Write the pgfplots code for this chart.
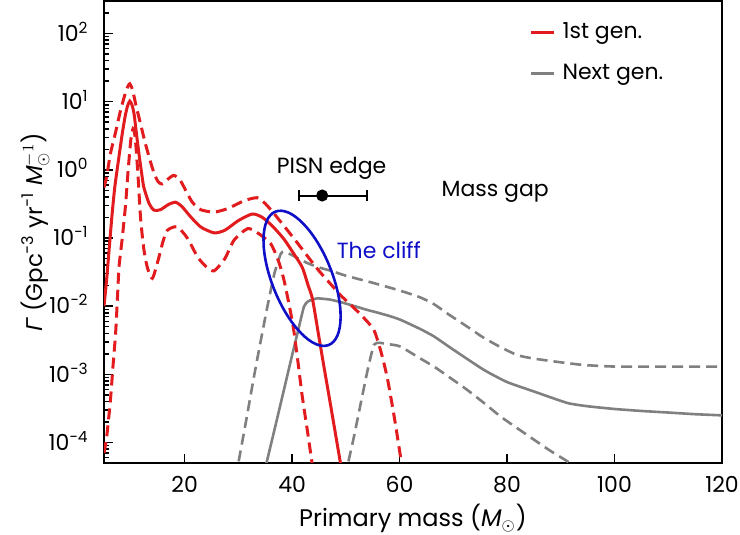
\documentclass[border=0pt]{standalone}
\usepackage{pgfplots}
\pgfplotsset{compat=1.18}
\usepackage{fontspec}
\setmainfont{Poppins}
\newfontfamily\gfont{Liberation Sans}
\definecolor{genred}{RGB}{226,27,30}
\definecolor{gengray}{RGB}{128,128,128}
\definecolor{cliffblue}{RGB}{15,15,200}

\pgfplotstableread{
x y
5.0 0.010
5.5 0.025
6.0 0.075
6.5 0.22
7.0 0.55
7.7 1.4
8.4 3.4
9.0 6.5
9.4 8.7
9.8 10.2
10.2 9.0
10.6 6.6
11.0 3.6
11.5 1.73
12.0 0.9
12.4 0.56
13.4 0.32
14.3 0.256
15.5 0.26
17.0 0.31
18.3 0.335
19.5 0.29
21.0 0.21
23.0 0.145
25.5 0.119
27.5 0.13
30.0 0.18
32.6 0.225
34.5 0.2
36.5 0.145
38.5 0.096
40.3 0.059
41.9 0.037
43.0 0.02
43.8 0.0127
45.0 0.0035
46.0 0.0012
47.0 4.2e-4
48.0 1.45e-4
49.0 5e-5
49.5 3e-5
}\firstmed

\pgfplotstableread{
x y
5.0 0.55
5.5 0.8
6.2 1.73
7.16 3.57
8.0 7.0
8.8 12
9.4 16.5
9.8 18.3
10.3 15
11.0 8.5
11.8 4.74
12.6 2.6
13.4 1.54
14.2 0.95
15.0 0.68
15.8 0.62
16.8 0.72
18.0 0.83
19.2 0.7
20.5 0.45
21.5 0.33
23.0 0.26
25.5 0.24
28.0 0.27
31.0 0.35
33.5 0.39
35.0 0.32
36.6 0.23
38.5 0.15
40.5 0.095
42.8 0.055
45.0 0.033
47.2 0.021
49.0 0.0145
50.9 0.0105
53.0 0.0072
55.2 0.0045
56.5 0.0022
57.7 0.0009
59.0 2.4e-4
60.2 6e-5
60.6 3.5e-5
}\firsthi

\pgfplotstableread{
x y
5.0 7e-5
5.5 1.2e-4
6.2 4.2e-4
6.7 1.4e-3
7.16 0.004
7.5 0.013
7.8 0.038
8.4 0.1
9.0 0.3
9.5 1.0
10.0 2.8
10.4 4.0
10.8 3.0
11.3 0.9
11.8 0.2
12.4 0.07
13.1 0.036
14.0 0.0256
15.0 0.045
16.0 0.09
16.8 0.13
18.6 0.146
20.5 0.1
22.4 0.053
24.0 0.038
25.5 0.033
27.5 0.05
29.2 0.093
31.7 0.137
33.5 0.12
36.0 0.083
37.5 0.045
38.5 0.024
39.5 0.01
40.3 0.0045
41.1 0.0015
41.9 4.7e-4
42.9 1.4e-4
43.8 4.5e-5
44.2 3e-5
}\firstlo

\pgfplotstableread{
x y
35.1 4.5e-5
36.0 8.9e-5
37.0 1.9e-4
38.5 6e-4
40.0 1.9e-3
41.0 4e-3
42.2 0.0098
43.0 0.0118
44.7 0.013
47.0 0.0125
49.0 0.0115
50.9 0.0104
54.0 0.0088
56.0 0.008
58.3 0.0071
60.2 0.0063
63.9 0.0046
66.4 0.0036
70.0 0.0023
75.7 0.00116
80.0 7.7e-4
85.0 5.6e-4
91.2 3.8e-4
95.0 3.4e-4
100.0 3.1e-4
105.0 2.9e-4
110.0 2.75e-4
115.0 2.6e-4
120.0 2.5e-4
}\nextmed

\pgfplotstableread{
x y
29.6 3e-5
29.9 4.5e-5
31.5 2.2e-4
32.9 9.2e-4
34.2 3.2e-3
35.4 0.0098
36.7 0.03
37.9 0.059
38.6 0.063
40.0 0.056
42.8 0.043
45.0 0.037
47.2 0.033
50.0 0.028
55.2 0.0218
60.2 0.0168
63.9 0.0134
66.4 0.0107
69.0 0.0077
72.6 0.005
75.5 0.0035
78.8 0.0025
82.0 0.0019
85.0 0.0017
90.0 0.0015
94.3 0.00137
100.0 0.0013
110.0 0.0013
120.0 0.0013
}\nexthi

\pgfplotstableread{
x y
50.0 3e-5
50.3 4.5e-5
51.5 1.2e-4
52.7 3.5e-4
54.0 1.1e-3
55.2 0.0027
56.2 0.0029
57.5 0.0028
58.9 0.0027
60.2 0.00255
63.9 0.0017
66.4 0.0013
69.5 0.00088
72.6 5.9e-4
75.7 3.8e-4
78.8 2.4e-4
82.0 1.6e-4
85.0 1.1e-4
88.0 7.6e-5
91.2 5.3e-5
93.0 4e-5
}\nextlo

\begin{document}
\begin{tikzpicture}
\begin{axis}[
  scale only axis, width=309pt, height=231pt,
  ymode=log, xmin=5, xmax=120, ymin=5e-5, ymax=3e2,
  font=\fontsize{11}{13}\selectfont,
  xtick={20,40,60,80,100,120},
  ytick={1e-4,1e-3,1e-2,1e-1,1,10,100},
  minor ytick={6e-5,7e-5,8e-5,9e-5,
    2e-4,3e-4,4e-4,5e-4,6e-4,7e-4,8e-4,9e-4,
    2e-3,3e-3,4e-3,5e-3,6e-3,7e-3,8e-3,9e-3,
    2e-2,3e-2,4e-2,5e-2,6e-2,7e-2,8e-2,9e-2,
    0.2,0.3,0.4,0.5,0.6,0.7,0.8,0.9,
    2,3,4,5,6,7,8,9,
    20,30,40,50,60,70,80,90,200,300},
  yticklabels={10\textsuperscript{−4},10\textsuperscript{−3},10\textsuperscript{−2},10\textsuperscript{−1},10\textsuperscript{0},10\textsuperscript{1},10\textsuperscript{2}},
  /pgf/number format/assume math mode=true,
  tick align=inside, xtick pos=left, ytick pos=left,
  major tick length=4.5pt, minor tick length=2.5pt,
  axis line style={line width=0.75pt},
  every tick/.style={black, line width=0.75pt},
  xticklabel style={anchor=base, inner sep=0pt, yshift=-15pt},
  yticklabel style={anchor=base east, inner sep=0pt, xshift=-7.5pt, yshift=-3.85pt},
  xlabel={Primary mass (\textit{M}$_\odot$)},
  ylabel={{\gfont\itshape Γ} (Gpc\textsuperscript{−3} yr\textsuperscript{−1} \textit{M}$_\odot^{-1}$)},
  xlabel style={at={(axis description cs:0.5,-0.1385)}, anchor=base, font=\fontsize{12}{14}\selectfont},
  ylabel style={at={(axis description cs:-0.1003,0.5)}, anchor=base, font=\fontsize{11.5}{13}\selectfont},
  legend style={draw=none, fill=none, at={(axis description cs:0.688,0.962)}, anchor=north west,
    inner sep=0pt, row sep=7.3pt, cells={anchor=west}, font=\fontsize{11}{13}\selectfont},
  legend image code/.code={\draw[#1] (0pt,0pt) -- (11.5pt,0pt);},
  /tikz/every odd column/.style={column sep=1.5pt},
]
\addlegendimage{genred, line width=1.5pt}
\addlegendentry{1st gen.}
\addlegendimage{gengray, line width=1.3pt}
\addlegendentry{Next gen.}
\addplot[gengray, line width=1.3pt, smooth, tension=0.3, forget plot] table {\nextmed};
\addplot[gengray, line width=1.3pt, smooth, tension=0.3, dash pattern=on 5.5pt off 3pt, forget plot] table {\nexthi};
\addplot[gengray, line width=1.3pt, smooth, tension=0.3, dash pattern=on 5.5pt off 3pt, forget plot] table {\nextlo};
\addplot[genred, line width=1.5pt, smooth, tension=0.4, dash pattern=on 5.5pt off 3pt, forget plot] table {\firsthi};
\addplot[genred, line width=1.5pt, smooth, tension=0.4, dash pattern=on 5.5pt off 3pt, forget plot] table {\firstlo};
\addplot[genred, line width=1.5pt, smooth, tension=0.4, forget plot] table {\firstmed};
\addplot[black, line width=1pt, mark=*, mark size=2.5pt, forget plot,
  error bars/.cd, x dir=both, x explicit, error mark=|,
  error bar style={line width=1pt}, error mark options={black, mark size=2.75pt, line width=1pt}]
  coordinates {(45.6,0.42) += (8.3,0) -= (4.3,0)};
\node[anchor=base] at (axis cs:47.35,0.88) {PISN edge};
\node[anchor=base] at (axis cs:77.8,0.4) {Mass gap};
\node[anchor=base, text=cliffblue] at (axis cs:56.15,0.05) {The cliff};
\coordinate (ec) at (axis cs:41.86,0.0256);
\coordinate (bl) at (rel axis cs:0,0);
\coordinate (tr) at (rel axis cs:1,1);
\end{axis}
\draw[cliffblue, line width=1.3pt, rotate around={-68.2:(ec)}] (ec) ellipse [x radius=35.9pt, y radius=15pt];
\pgfresetboundingbox
\path[use as bounding box] ([xshift=-52pt,yshift=-36pt]bl) rectangle ([xshift=9pt,yshift=0.5pt]tr);
\end{tikzpicture}
\end{document}
